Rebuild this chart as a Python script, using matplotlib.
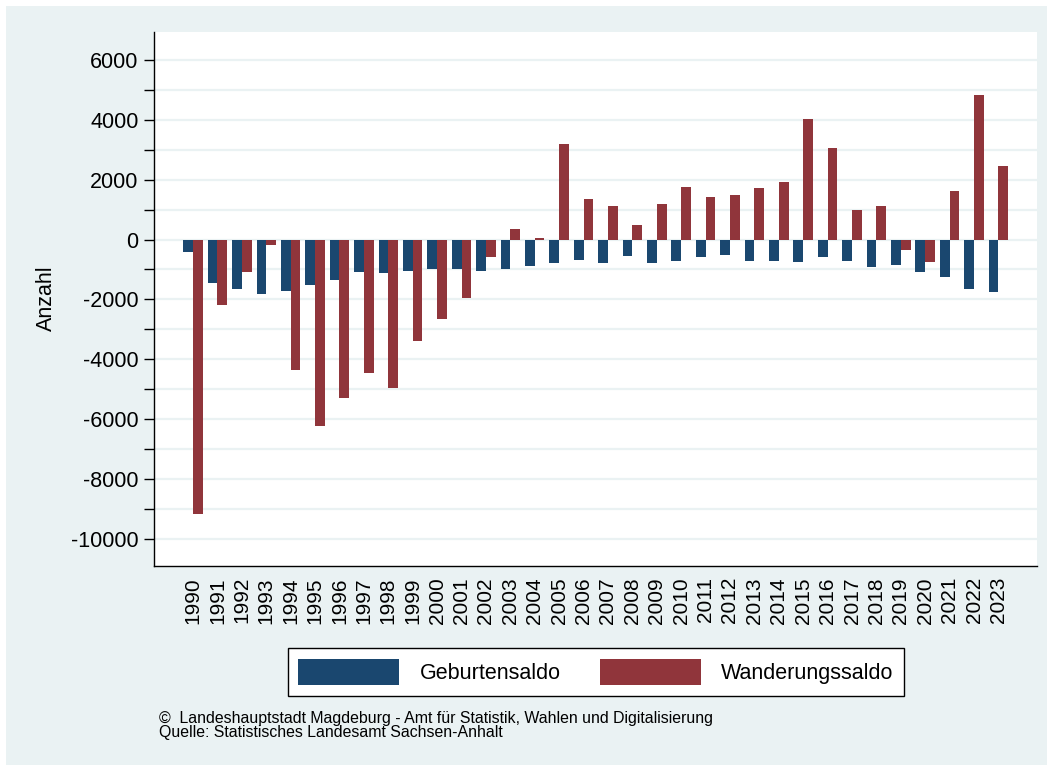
import numpy as np
import matplotlib
matplotlib.use("Agg")
import matplotlib.pyplot as plt
from matplotlib.patches import Rectangle, Patch

plt.rcParams["font.family"] = ["Liberation Sans", "DejaVu Sans"]

# Daten
jahre = ["1990", "1991", "1992", "1993", "1994", "1995", "1996", "1997", "1998", "1999",
         "2000", "2001", "2002", "2003", "2004", "2005", "2006", "2007", "2008", "2009",
         "2010", "2011", "2012", "2013", "2014", "2015", "2016", "2017", "2018", "2019",
         "2020", "2021", "2022", "2023"]
geburtensaldo = [-414, -1450, -1640, -1820, -1710, -1530, -1345, -1100, -1125, -1035,
                 -1000, -1000, -1035, -977, -897, -770, -667, -793, -563, -782,
                 -701, -598, -529, -713, -724, -736, -598, -713, -908, -862,
                 -1080, -1264, -1667, -1736]
wanderungssaldo = [-9170, -2170, -1100, -195, -4370, -6240, -5300, -4450, -4970, -3390,
                   -2655, -1965, -586, 345, 50, 3207, 1356, 1115, 483, 1195,
                   1759, 1425, 1494, 1724, 1908, 4034, 3046, 1000, 1126, -333,
                   -736, 1609, 4816, 2471]
serien = ["Geburtensaldo", "Wanderungssaldo"]

blau = "#1a476f"
rot = "#90353b"
hg = "#eaf2f3"

W, H = 1053, 771
fig = plt.figure(figsize=(W / 100, H / 100), dpi=100)
fig.patch.set_facecolor("white")
fig.patches.append(Rectangle((6 / W, 6 / H), 1041 / W, 759 / H, transform=fig.transFigure,
                             facecolor=hg, edgecolor="none", zorder=-10))

ax = fig.add_axes([154 / W, 1 - 566 / H, 883 / W, 534 / H])
ax.set_facecolor("white")

x = np.arange(len(jahre))
b = 0.4
ax.bar(x - b / 2, geburtensaldo, width=b, color=blau, linewidth=0, zorder=3)
ax.bar(x + b / 2, wanderungssaldo, width=b, color=rot, linewidth=0, zorder=3)

ax.set_xlim(-1.6, len(jahre) - 1 + 1.58)
ax.set_ylim(-10900, 6930)

ax.set_yticks(np.arange(-10000, 6001, 2000))
ax.set_yticks(np.arange(-9000, 6001, 2000), minor=True)
ax.set_yticklabels([str(v) for v in range(-10000, 6001, 2000)], fontsize=15.5)
for v in range(-10000, 6001, 1000):
    ax.axhline(v, color=hg, linewidth=1.6, zorder=1)
ax.tick_params(axis="y", which="both", length=7, width=1, pad=4, color="black")

ax.set_xticks(x)
ax.set_xticklabels(jahre, rotation=90, fontsize=15)
ax.tick_params(axis="x", length=0, pad=8)

for s in ["top", "right"]:
    ax.spines[s].set_visible(False)
for s in ["left", "bottom"]:
    ax.spines[s].set_color("black")
    ax.spines[s].set_linewidth(1)

fig.text(46 / W, 1 - 298 / H, "Anzahl", rotation=90, fontsize=15.5, ha="center", va="center")

handles = [Patch(facecolor=blau, edgecolor="none"), Patch(facecolor=rot, edgecolor="none")]
leg = fig.legend(handles, serien, loc="center", ncol=2,
                 bbox_to_anchor=((281 + 911) / 2 / W, 1 - 672 / H),
                 fontsize=15.5, handlelength=4.7, handleheight=1.5, handletextpad=0.95,
                 columnspacing=1.8, borderpad=0.5, fancybox=False, framealpha=1)
leg.get_frame().set_edgecolor("black")
leg.get_frame().set_linewidth(1)

fig.text(159 / W, 1 - 718 / H,
         "\u00a9  Landeshauptstadt Magdeburg - Amt f\u00fcr Statistik, Wahlen und Digitalisierung",
         fontsize=11.4, va="center", ha="left")
fig.text(159 / W, 1 - 733 / H, "Quelle: Statistisches Landesamt Sachsen-Anhalt",
         fontsize=11.4, va="center", ha="left")

fig.savefig("out.png", dpi=100)
